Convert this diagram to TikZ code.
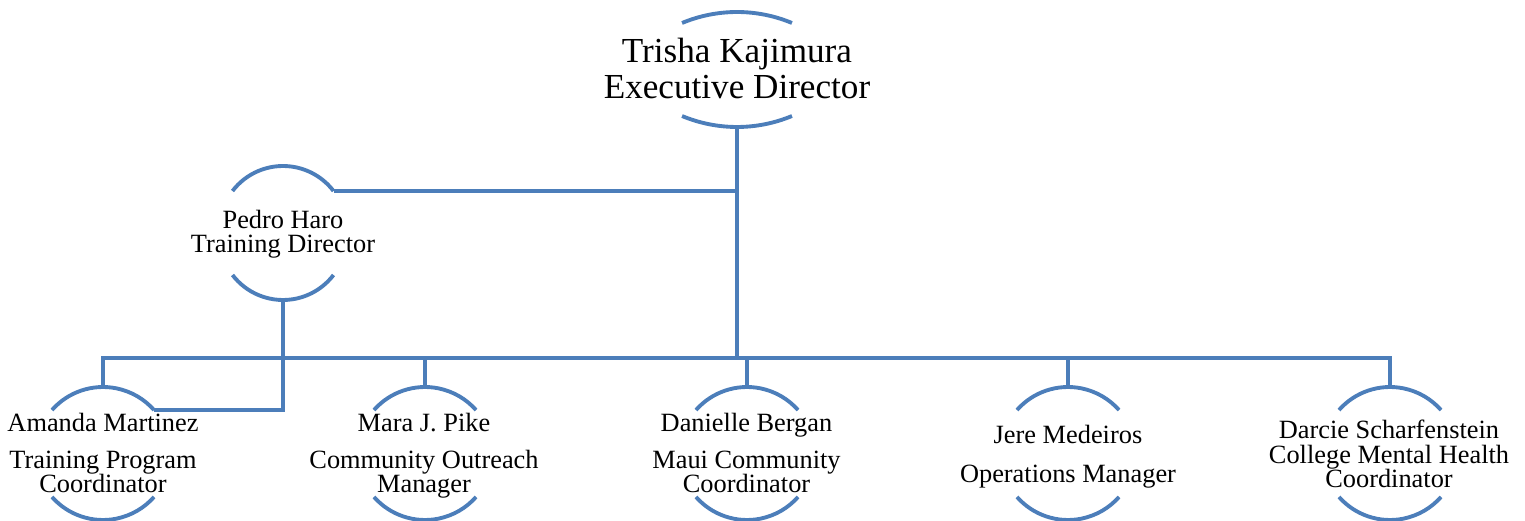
\documentclass[tikz,border=0pt]{standalone}
\usepackage{fontspec}
\setmainfont{Liberation Serif}
\usepackage{tikz}

\definecolor{chartblue}{RGB}{76,126,186}

\tikzset{
	chart/.style = {draw = chartblue, line width = 2.2pt},
	bigname/.style = {align = center, anchor = base, inner sep = 0pt, font = \fontsize{20}{20.5}\selectfont},
	smallname/.style = {align = center, anchor = base, inner sep = 0pt, font = \fontsize{15}{14.2}\selectfont}
}

% the two arcs of a half circle box: name, radius, half angle
\newcommand{\halfarcs}[3]{%
	\draw [chart] (#1-top) ++({-#2*sin(#3)},{-#2*(1-cos(#3))}) coordinate (#1-tl)
		arc [start angle = 90+#3, end angle = 90-#3, radius = #2] coordinate (#1-tr);
	\draw [chart] (#1-bot) ++({-#2*sin(#3)},{#2*(1-cos(#3))}) coordinate (#1-bl)
		arc [start angle = 270-#3, end angle = 270+#3, radius = #2] coordinate (#1-br);
}

\begin{document}
\begin{tikzpicture}
						\useasboundingbox (0,0) rectangle (30.5,10.42);
						\begin{scope}
							\coordinate (exec-top) at (14.74,10.18);
							\coordinate (exec-bot) at (14.74,7.88);
							\coordinate (pedro-top) at (5.66,7.10);
							\coordinate (pedro-bot) at (5.66,4.42);
							\coordinate (amanda-top) at (2.06,2.68);
							\coordinate (amanda-bot) at (2.06,0.02);
							\coordinate (mara-top) at (8.50,2.68);
							\coordinate (mara-bot) at (8.50,0.02);
							\coordinate (danielle-top) at (14.94,2.68);
							\coordinate (danielle-bot) at (14.94,0.02);
							\coordinate (jere-top) at (21.36,2.68);
							\coordinate (jere-bot) at (21.36,0.02);
							\coordinate (darcie-top) at (27.80,2.68);
							\coordinate (darcie-bot) at (27.80,0.02);
							\coordinate (bus) at (14.74,3.26);
						\end{scope}
						\begin{scope}
							\halfarcs{exec}{2.86}{22.6}
							\halfarcs{pedro}{1.27}{52.7}
							\halfarcs{amanda}{1.36}{48.6}
							\halfarcs{mara}{1.36}{48.6}
							\halfarcs{danielle}{1.36}{48.6}
							\halfarcs{jere}{1.36}{48.6}
							\halfarcs{darcie}{1.36}{48.6}
						\end{scope}
						\begin{scope}[chart]
							\draw (exec-bot) -- (exec-bot |- bus);
							\draw (pedro-tr) -- (pedro-tr -| exec-bot);
							\draw (pedro-bot) |- (amanda-tr);
							\draw (amanda-top) -- (amanda-top |- bus) -- (darcie-top |- bus) -- (darcie-top);
							\draw (mara-top) -- (mara-top |- bus);
							\draw (danielle-top) -- (danielle-top |- bus);
							\draw (jere-top) -- (jere-top |- bus);
						\end{scope}
						\begin{scope}
							\node [bigname] (exec) at (14.74,8.44) {Trisha Kajimura\\Executive Director};
							\node [smallname] (pedro) at (5.66,5.36) {Pedro Haro\\Training Director};
							\node [smallname] (amanda) at (2.06,0.56) {Amanda Martinez\\[6.8pt]Training Program\\Coordinator};
							\node [smallname] (mara) at (8.48,0.56) {Mara J. Pike\\[6.8pt]Community Outreach\\Manager};
							\node [smallname] (danielle) at (14.93,0.56) {Danielle Bergan\\[6.8pt]Maui Community\\Coordinator};
							\node [smallname] (jere) at (21.36,0.76) {Jere Medeiros\\[8.4pt]Operations Manager};
							\node [smallname] (darcie) at (27.78,0.66) {Darcie Scharfenstein\\College Mental Health\\Coordinator};
						\end{scope}
					\end{tikzpicture}
\end{document}
